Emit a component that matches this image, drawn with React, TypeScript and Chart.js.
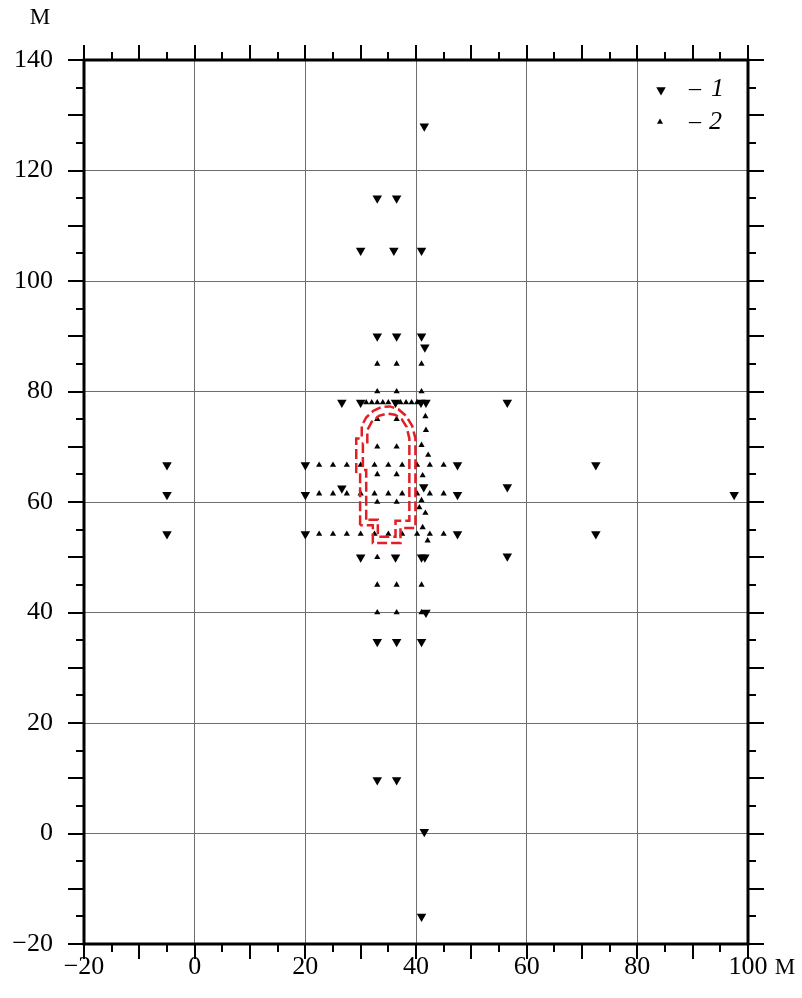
import React, { useEffect, useRef } from 'react';
import { Chart, registerables } from 'chart.js';

Chart.register(...registerables);

// ---- data ----
const xTickValues = [-20, 0, 20, 40, 60, 80, 100];
const xTickLabels = ['−20', '0', '20', '40', '60', '80', '100'];
const yTickValues = [-20, 0, 20, 40, 60, 80, 100, 120, 140];
const yTickLabels = ['−20', '0', '20', '40', '60', '80', '100', '120', '140'];
const unitLabel = 'М';
const legendLabels = ['1', '2'];

// series 1: downward triangles
const series1X = [41.5, 33, 36.5, 30, 36, 41, 33, 36.5, 41, 41.6,
  26.6, 30, 36.3, 40.9, 41.8, 56.5,
  -5, 20, 47.5, 72.5,
  -5, 20, 47.5, 97.5, 26.6, 41.4, 56.5,
  -5, 20, 47.5, 72.5,
  30, 36.3, 41, 41.6, 56.5,
  41.8,
  33, 36.5, 41,
  33, 36.5, 41.5, 41];
const series1Y = [128, 115, 115, 105.5, 105.5, 105.5, 90, 90, 90, 88,
  78, 78, 78, 78, 78, 78,
  66.7, 66.7, 66.7, 66.7,
  61.3, 61.3, 61.3, 61.3, 62.5, 62.7, 62.7,
  54.2, 54.2, 54.2, 54.2,
  50, 50, 50, 50, 50.2,
  40,
  34.7, 34.7, 34.7,
  9.7, 9.7, 0.3, -15];

// series 2: upward triangles
const series2X = [33, 36.5, 41,
  33, 36.5, 41,
  31, 32, 33, 34, 35, 37.2, 38.2, 39.2, 40.2,
  33, 36.5, 41.7, 41.8,
  33, 36.5, 41, 42.2,
  22.5, 25, 27.5, 30, 32.5, 35, 37.5, 40.2, 42.5, 45,
  33, 36.5, 41.2,
  22.5, 25, 27.5, 30, 32.5, 35, 37.5, 40.2, 42.5, 45,
  33, 36.5, 41, 41.7, 40.6,
  22.5, 25, 27.5, 30, 32.5, 35, 37.5, 40.2, 42.5, 45,
  41.2, 42.1, 33,
  33, 36.5, 41,
  33, 36.5, 41];
const series2Y = [85, 85, 85,
  80, 80, 80,
  78, 78, 78, 78, 78, 78, 78, 78, 78,
  75, 75, 75.5, 73,
  70, 70, 70.3, 68.5,
  66.7, 66.7, 66.7, 66.7, 66.7, 66.7, 66.7, 66.7, 66.7, 66.7,
  65, 65, 64.8,
  61.5, 61.5, 61.5, 61.5, 61.5, 61.5, 61.5, 61.5, 61.5, 61.5,
  60, 60, 60.3, 58, 59,
  54.2, 54.2, 54.2, 54.2, 54.2, 54.2, 54.2, 54.2, 54.2, 54.2,
  55.4, 53, 50,
  45, 45, 45,
  40, 40, 40];

// red dashed contour (outer and inner)
const outerX = [29.9, 29.9, 29.2, 29.2, 30.2, 30.2, 31.0, 32.3, 33.8, 35.3, 36.8, 38.2, 39.3, 39.9, 39.9, 37.2, 37.2, 32.2, 32.2, 29.9];
const outerY = [55.8, 65.0, 65.0, 71.5, 71.5, 73.8, 75.3, 76.5, 77.2, 77.3, 76.8, 75.6, 73.8, 71.5, 55.3, 55.3, 52.6, 52.6, 55.8, 55.8];
const innerX = [31.0, 31.0, 30.4, 30.4, 31.2, 31.2, 32.0, 33.3, 34.8, 36.2, 37.4, 38.3, 38.8, 38.8, 36.3, 36.3, 33.1, 33.1, 31.0];
const innerY = [56.8, 65.8, 65.8, 70.6, 70.6, 73.0, 74.5, 75.6, 76.0, 75.8, 75.0, 73.6, 71.5, 56.6, 56.6, 53.7, 53.7, 56.8, 56.8];

const toPts = (xs: number[], ys: number[]) => xs.map((x, i) => ({ x, y: ys[i] }));

const SERIF = '"Liberation Serif", "Times New Roman", Times, serif';

function triangle(ctx: CanvasRenderingContext2D, x: number, y: number, r: number, down: boolean) {
  const s = down ? -1 : 1;
  ctx.beginPath();
  for (let k = 0; k < 3; k++) {
    const a = (k * 2 * Math.PI) / 3;
    const px = x + Math.sin(a) * r;
    const py = y - s * Math.cos(a) * r;
    if (k === 0) ctx.moveTo(px, py); else ctx.lineTo(px, py);
  }
  ctx.closePath();
  ctx.fill();
}

const decorPlugin = {
  id: 'decor',
  afterDraw(chart: any) {
    const { ctx, chartArea, scales } = chart;
    const { left, right, top, bottom } = chartArea;
    const xs = scales.x, ys = scales.y;
    ctx.save();
    ctx.strokeStyle = '#000';
    ctx.fillStyle = '#000';
    // ticks on four sides
    ctx.lineWidth = 2;
    ctx.beginPath();
    for (let v = xs.min; v <= xs.max + 1e-6; v += 5) {
      const px = Math.round(xs.getPixelForValue(v));
      const len = v % 10 === 0 ? 15 : 8;
      ctx.moveTo(px, bottom); ctx.lineTo(px, bottom + len);
      ctx.moveTo(px, top); ctx.lineTo(px, top - len);
    }
    for (let v = ys.min; v <= ys.max + 1e-6; v += 5) {
      const py = Math.round(ys.getPixelForValue(v));
      const len = v % 10 === 0 ? 16 : 8;
      ctx.moveTo(left, py); ctx.lineTo(left - len, py);
      ctx.moveTo(right, py); ctx.lineTo(right + len, py);
    }
    ctx.stroke();
    // frame
    ctx.lineWidth = 3;
    ctx.strokeRect(left, top, right - left, bottom - top);
    // unit labels
    ctx.font = `23px ${SERIF}`;
    ctx.textAlign = 'center';
    ctx.textBaseline = 'middle';
    ctx.fillText(unitLabel, left - 44, top - 42);
    ctx.fillText(unitLabel, right + 37, bottom + 24);
    // legend
    const lx = right - 87;
    const ly1 = top + 29;
    const ly2 = top + 62;
    triangle(ctx, lx, ly1 + 1, 5.5, true);
    triangle(ctx, lx - 1, ly2, 3.5, false);
    ctx.textAlign = 'left';
    ctx.font = `24px ${SERIF}`;
    ctx.fillText('–', lx + 28, ly1);
    ctx.fillText('–', lx + 28, ly2);
    ctx.font = `italic 26px ${SERIF}`;
    ctx.fillText(legendLabels[0], lx + 50, ly1);
    ctx.fillText(legendLabels[1], lx + 48, ly2);
    ctx.restore();
  },
};

export default function App() {
  const ref = useRef<HTMLCanvasElement>(null);
  useEffect(() => {
    if (!ref.current) return;
    const chart = new Chart(ref.current, {
      type: 'scatter',
      data: {
        datasets: [
          {
            label: 'outer',
            data: toPts(outerX, outerY),
            showLine: true,
            borderColor: '#e31e24',
            borderWidth: 2.5,
            borderDash: [10, 4],
            pointRadius: 0,
            fill: false,
            tension: 0,
          },
          {
            label: 'inner',
            data: toPts(innerX, innerY),
            showLine: true,
            borderColor: '#e31e24',
            borderWidth: 2.5,
            borderDash: [10, 4],
            pointRadius: 0,
            fill: false,
            tension: 0,
          },
          {
            label: legendLabels[0],
            data: toPts(series1X, series1Y),
            pointStyle: 'triangle',
            rotation: 180,
            pointRadius: 5.5,
            backgroundColor: '#000',
            borderColor: '#000',
            borderWidth: 0,
          },
          {
            label: legendLabels[1],
            data: toPts(series2X, series2Y),
            pointStyle: 'triangle',
            pointRadius: 3.6,
            backgroundColor: '#000',
            borderColor: '#000',
            borderWidth: 0,
          },
        ],
      },
      options: {
        animation: false,
        responsive: false,
        maintainAspectRatio: false,
        layout: { padding: { left: 0, right: 54, top: 60, bottom: 0 } },
        plugins: { legend: { display: false }, tooltip: { enabled: false } },
        scales: {
          x: {
            type: 'linear',
            min: -20,
            max: 100,
            afterBuildTicks: (s: any) => { s.ticks = xTickValues.map((v) => ({ value: v })); },
            afterFit: (s: any) => { s.height = 54; },
            ticks: {
              callback: (v: any) => xTickLabels[xTickValues.indexOf(Number(v))],
              font: { family: SERIF, size: 26 },
              color: '#000',
              padding: 8,
              maxRotation: 0,
              autoSkip: false,
            },
            grid: { color: '#6e6e6e', lineWidth: 1, drawTicks: false },
            border: { display: false },
          },
          y: {
            type: 'linear',
            min: -20,
            max: 140,
            afterBuildTicks: (s: any) => { s.ticks = yTickValues.map((v) => ({ value: v })); },
            afterFit: (s: any) => { s.width = 84; },
            ticks: {
              callback: (v: any) => yTickLabels[yTickValues.indexOf(Number(v))],
              font: { family: SERIF, size: 26 },
              color: '#000',
              padding: 31,
              autoSkip: false,
            },
            grid: { color: '#6e6e6e', lineWidth: 1, drawTicks: false },
            border: { display: false },
          },
        },
      },
      plugins: [decorPlugin],
    });
    return () => chart.destroy();
  }, []);
  return (
    <div style={{ position: 'absolute', left: 0, top: 0, width: 802, height: 998, background: '#fff' }}>
      <canvas ref={ref} width={802} height={998} style={{ display: 'block', width: 802, height: 998 }} />
    </div>
  );
}
